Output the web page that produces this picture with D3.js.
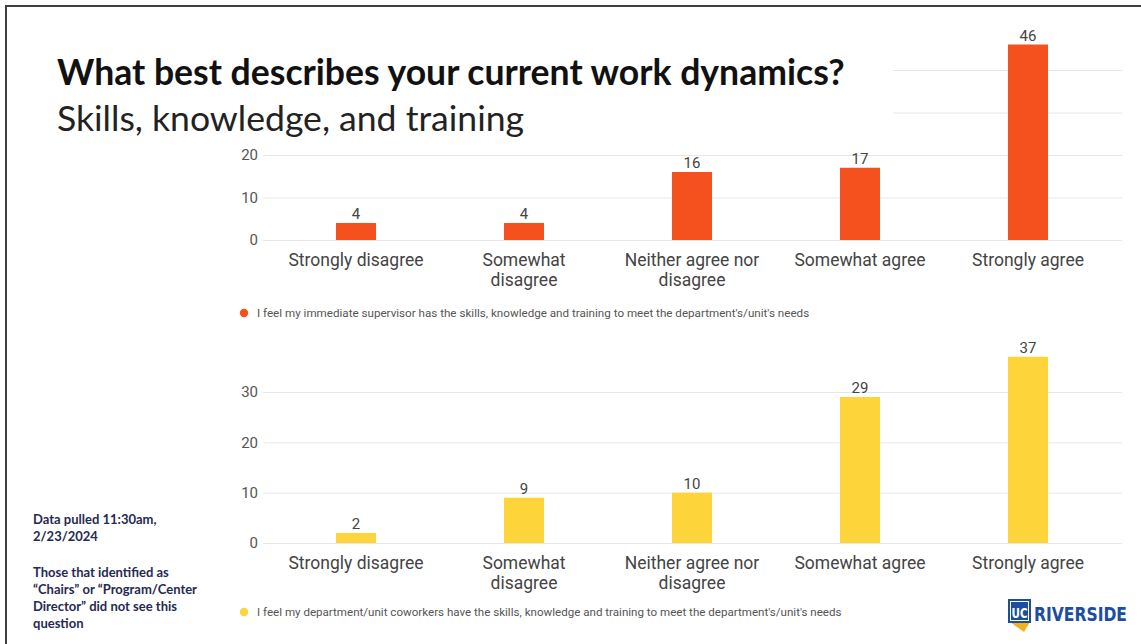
<!DOCTYPE html>
<html>
<head>
<meta charset="utf-8">
<script src="https://cdn.jsdelivr.net/npm/d3@7"></script>
<style>
  html, body { margin: 0; padding: 0; background: #fff; }
  svg { display: block; }
</style>
</head>
<body>
<svg id="slide" width="1141" height="644"></svg>
<script>
// Survey responses, "What best describes your current work dynamics?"
const categories = ["Strongly disagree", "Somewhat disagree", "Neither agree nor disagree", "Somewhat agree", "Strongly agree"];
const categoryLines = [["Strongly disagree"], ["Somewhat", "disagree"], ["Neither agree nor", "disagree"], ["Somewhat agree"], ["Strongly agree"]];
const supervisorValues = [4, 4, 16, 17, 46];
const coworkerValues = [2, 9, 10, 29, 37];
const supervisorTicks = [0, 10, 20, 30, 40];
const supervisorLabelledTicks = [0, 10, 20];   // the upper ticks sit under the title panel
const coworkerTicks = [0, 10, 20, 30];
const supervisorLegend = "I feel my immediate supervisor has the skills, knowledge and training to meet the department's/unit's needs";
const coworkerLegend = "I feel my department/unit coworkers have the skills, knowledge and training to meet the department's/unit's needs";
const noteLines = ["Data pulled 11:30am,", "2/23/2024", "", "Those that identified as", "\u201CChairs\u201D or \u201CProgram/Center", "Director\u201D did not see this", "question"];

const svg = d3.select("#slide");
const chartFont = "Roboto, 'Liberation Sans', Arial, sans-serif";

// shrink/grow a text's font size so it spans the given width
function fitWidth(sel, width) {
  const node = sel.node();
  const fs = parseFloat(sel.attr("font-size"));
  const w = node.getComputedTextLength();
  if (w > 0) sel.attr("font-size", (fs * width / w).toFixed(2));
  return sel;
}

// slide frame
svg.append("line").attr("x1", 5).attr("x2", 1141).attr("y1", 6).attr("y2", 6)
  .attr("stroke", "#3f3f3f").attr("stroke-width", 2);
svg.append("line").attr("x1", 6).attr("x2", 6).attr("y1", 5).attr("y2", 644)
  .attr("stroke", "#3f3f3f").attr("stroke-width", 2);

const x = d3.scalePoint().domain(categories).range([272, 1112]).padding(0.5);
const barWidth = 40;
const gridLeft = 263, gridRight = 1122;

function drawPanel(values, ticks, labelled, yScale, color, legendText, labelTop, legendY, legendWidth) {
  const g = svg.append("g");

  const axis = d3.axisLeft(yScale)
    .tickValues(ticks)
    .tickFormat(d => labelled.includes(d) ? d : "")
    .tickSize(-(gridRight - gridLeft))
    .tickPadding(5);
  const ax = g.append("g").attr("transform", `translate(${gridLeft},0)`).call(axis);
  ax.select(".domain").remove();
  ax.selectAll(".tick line").attr("stroke", "#e6e6e6").attr("stroke-width", 1);
  ax.selectAll(".tick text")
    .attr("fill", "#555").attr("font-size", 15).attr("font-family", chartFont);
  ax.selectAll(".tick text").filter(d => !labelled.includes(d)).remove();

  g.selectAll("rect.bar").data(values).join("rect")
    .attr("class", "bar")
    .attr("x", (d, i) => x(categories[i]) - barWidth / 2)
    .attr("width", barWidth)
    .attr("y", d => yScale(d))
    .attr("height", d => yScale(0) - yScale(d))
    .attr("fill", color);

  g.selectAll("text.val").data(values).join("text")
    .attr("class", "val")
    .attr("x", (d, i) => x(categories[i]))
    .attr("y", d => yScale(d) - 4)
    .attr("text-anchor", "middle")
    .attr("font-family", chartFont).attr("font-size", 15).attr("fill", "#444")
    .text(d => d);

  const cats = g.selectAll("text.cat").data(categoryLines).join("text")
    .attr("class", "cat")
    .attr("text-anchor", "middle")
    .attr("font-family", chartFont).attr("font-size", 17.5).attr("fill", "#444");
  cats.each(function (lines, i) {
    d3.select(this).selectAll("tspan").data(lines).join("tspan")
      .attr("x", x(categories[i]))
      .attr("y", (l, j) => labelTop + j * 20)
      .text(l => l);
  });

  g.append("circle").attr("cx", 244).attr("cy", legendY).attr("r", 4.2).attr("fill", color);
  const lt = g.append("text").attr("x", 257).attr("y", legendY + 3.5)
    .attr("font-family", chartFont).attr("font-size", 10).attr("fill", "#555")
    .text(legendText);
  fitWidth(lt, legendWidth);
}

// top panel: supervisor
const ySup = d3.scaleLinear().domain([0, 40]).range([240, 70]);
drawPanel(supervisorValues, supervisorTicks, supervisorLabelledTicks, ySup, "#f4511e", supervisorLegend, 266, 313, 553);

// bottom panel: coworkers
const yCo = d3.scaleLinear().domain([0, 30]).range([543, 392]);
drawPanel(coworkerValues, coworkerTicks, coworkerTicks, yCo, "#fdd43a", coworkerLegend, 569, 612, 585);

// title block sits on a white panel over the upper gridlines
svg.append("rect").attr("x", 45).attr("y", 50).attr("width", 848).attr("height", 95).attr("fill", "#fff");
const title = svg.append("text").attr("x", 57).attr("y", 85)
  .attr("font-family", "Lato, 'Open Sans', sans-serif").attr("font-weight", 700)
  .attr("font-size", 28).attr("fill", "#111")
  .text("What best describes your current work dynamics?");
fitWidth(title, 788);
const subtitle = svg.append("text").attr("x", 57).attr("y", 131)
  .attr("font-family", "Lato, 'Open Sans', sans-serif").attr("font-weight", 400)
  .attr("font-size", 32).attr("fill", "#222")
  .text("Skills, knowledge, and training");
fitWidth(subtitle, 467);

// footnote
const note = svg.append("text").attr("font-family", "Lato, 'Open Sans', sans-serif")
  .attr("font-weight", 700).attr("fill", "#262a52");
const notePos = [524, 541, 0, 577, 594, 611, 628];
noteLines.forEach((l, i) => {
  if (!l) return;
  note.append("tspan").attr("x", 33).attr("y", notePos[i]).attr("font-size", 13).text(l);
});

// UC Riverside wordmark
const logo = svg.append("g");
logo.append("path").attr("d", "M1010,622 L1030,622 L1024,632 Z").attr("fill", "#f2b21a");
logo.append("rect").attr("x", 1008).attr("y", 599).attr("width", 23).attr("height", 24).attr("fill", "#1c4da1");
logo.append("rect").attr("x", 1010.5).attr("y", 601.5).attr("width", 18).attr("height", 19)
  .attr("fill", "none").attr("stroke", "#fff").attr("stroke-width", 1);
logo.append("text").attr("x", 1019.5).attr("y", 618).attr("text-anchor", "middle")
  .attr("font-family", "'DejaVu Sans Condensed', 'DejaVu Sans', sans-serif").attr("font-weight", 700)
  .attr("font-size", 14).attr("fill", "#fff").attr("textLength", 16).attr("lengthAdjust", "spacingAndGlyphs")
  .text("UC");
logo.append("text").attr("x", 1034).attr("y", 621)
  .attr("font-family", "'DejaVu Sans Condensed', 'DejaVu Sans', sans-serif").attr("font-weight", 700)
  .attr("font-size", 19).attr("fill", "#1c4da1").attr("textLength", 93).attr("lengthAdjust", "spacingAndGlyphs")
  .text("RIVERSIDE");
</script>
</body>
</html>
